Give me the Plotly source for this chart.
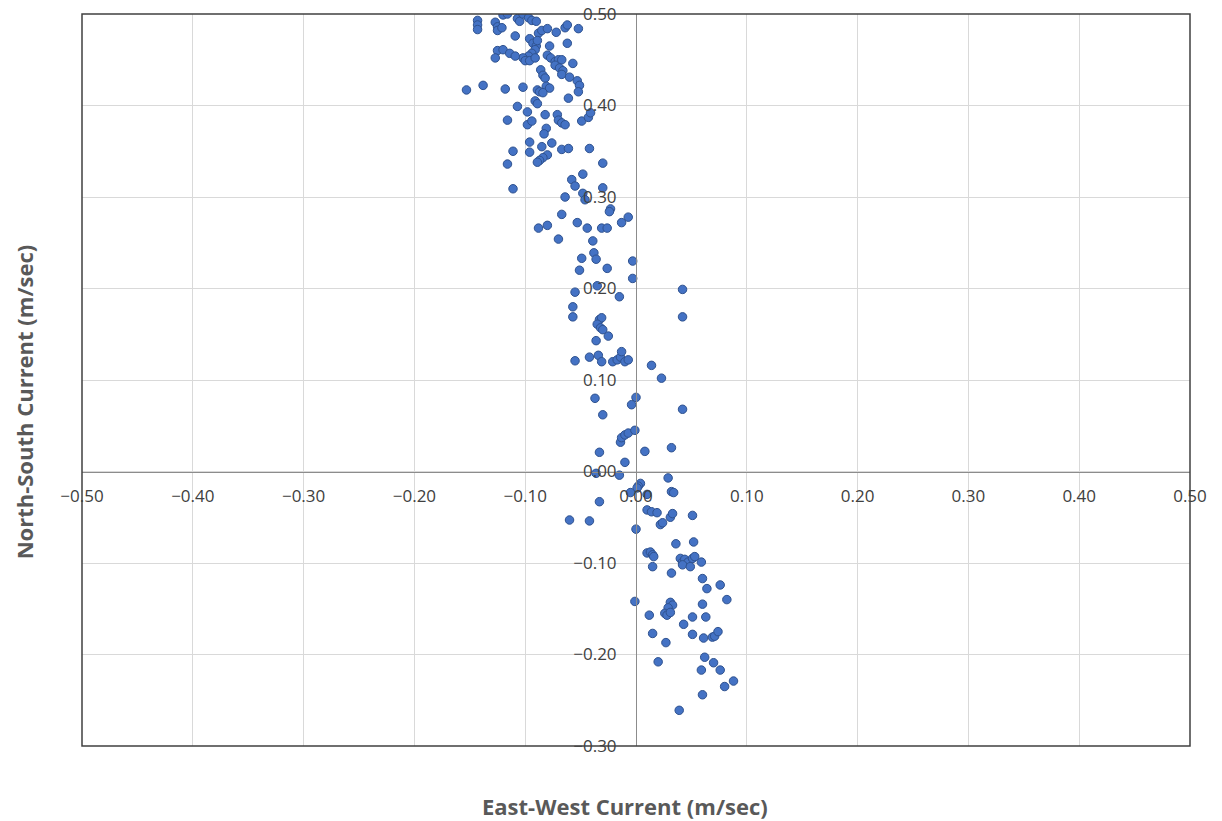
import plotly.graph_objects as go

# East-West (u) and North-South (v) current components, m/sec
east_west = [
    -0.143, -0.143, -0.143, -0.127, -0.125, -0.125, -0.121, -0.120, -0.116, -0.107,
    -0.105, -0.102, -0.097, -0.094, -0.090, -0.109, -0.088, -0.085, -0.080, -0.072,
    -0.064, -0.062, -0.052, -0.096, -0.093, -0.090, -0.091, -0.094, -0.097, -0.102,
    -0.100, -0.096, -0.091, -0.089, -0.125, -0.120, -0.114, -0.109, -0.127, -0.078,
    -0.062, -0.080, -0.077, -0.073, -0.070, -0.067, -0.073, -0.069, -0.066, -0.057,
    -0.086, -0.084, -0.082, -0.067, -0.060, -0.053, -0.051, -0.052, -0.081, -0.078,
    -0.089, -0.087, -0.084, -0.061, -0.153, -0.138, -0.118, -0.102, -0.091, -0.089,
    -0.107, -0.098, -0.116, -0.098, -0.094, -0.082, -0.071, -0.070, -0.067, -0.064,
    -0.081, -0.083, -0.049, -0.043, -0.041, -0.096, -0.076, -0.085, -0.067, -0.061,
    -0.042, -0.111, -0.096, -0.080, -0.084, -0.087, -0.089, -0.116, -0.030, -0.048,
    -0.058, -0.055, -0.111, -0.064, -0.048, -0.046, -0.030, -0.023, -0.067, -0.024,
    -0.007, -0.013, -0.088, -0.080, -0.053, -0.044, -0.031, -0.026, -0.070, -0.039,
    -0.038, -0.036, -0.049, -0.003, -0.051, -0.026, -0.003, -0.055, -0.035, -0.015,
    0.042, -0.057, -0.057, 0.042, -0.033, -0.031, -0.035, -0.032, -0.030, -0.025,
    -0.036, -0.042, -0.034, -0.031, -0.055, -0.021, -0.017, -0.014, -0.013, -0.010,
    -0.007, 0.014, 0.023, -0.037, 0.000, -0.004, 0.042, -0.030, -0.014, -0.013,
    -0.010, -0.007, -0.001, -0.033, 0.008, 0.032, -0.010, -0.036, -0.015, 0.029,
    0.004, 0.002, 0.001, -0.005, 0.010, 0.032, 0.034, -0.033, 0.010, 0.014,
    0.019, 0.031, 0.033, 0.051, -0.042, -0.060, 0.022, 0.024, 0.000, 0.036,
    0.052, 0.010, 0.013, 0.015, 0.016, 0.040, 0.042, 0.044, 0.047, 0.051,
    0.053, 0.042, 0.049, 0.059, 0.015, 0.032, 0.060, 0.076, 0.064, -0.001,
    0.031, 0.033, 0.029, 0.026, 0.028, 0.031, 0.060, 0.082, 0.012, 0.051,
    0.063, 0.043, 0.015, 0.051, 0.061, 0.069, 0.071, 0.074, 0.027, 0.020,
    0.062, 0.070, 0.076, 0.059, 0.080, 0.088, 0.060, 0.039,
]
north_south = [
    0.493, 0.488, 0.483, 0.491, 0.486, 0.482, 0.485, 0.499, 0.500, 0.495,
    0.492, 0.500, 0.496, 0.493, 0.492, 0.476, 0.479, 0.482, 0.484, 0.480,
    0.485, 0.488, 0.484, 0.473, 0.468, 0.465, 0.461, 0.457, 0.454, 0.452,
    0.449, 0.449, 0.452, 0.471, 0.460, 0.461, 0.457, 0.454, 0.452, 0.465,
    0.468, 0.455, 0.452, 0.448, 0.450, 0.450, 0.444, 0.441, 0.438, 0.446,
    0.439, 0.433, 0.430, 0.434, 0.431, 0.427, 0.422, 0.415, 0.421, 0.419,
    0.417, 0.415, 0.414, 0.408, 0.417, 0.422, 0.418, 0.420, 0.405, 0.402,
    0.399, 0.393, 0.384, 0.379, 0.383, 0.390, 0.390, 0.384, 0.381, 0.379,
    0.375, 0.369, 0.383, 0.387, 0.392, 0.360, 0.359, 0.355, 0.352, 0.353,
    0.353, 0.350, 0.349, 0.346, 0.343, 0.340, 0.338, 0.336, 0.337, 0.325,
    0.319, 0.312, 0.309, 0.300, 0.304, 0.297, 0.310, 0.287, 0.281, 0.284,
    0.278, 0.272, 0.266, 0.269, 0.272, 0.266, 0.266, 0.266, 0.254, 0.252,
    0.239, 0.232, 0.233, 0.230, 0.220, 0.222, 0.211, 0.196, 0.203, 0.191,
    0.199, 0.180, 0.169, 0.169, 0.166, 0.168, 0.161, 0.157, 0.155, 0.148,
    0.143, 0.125, 0.127, 0.120, 0.121, 0.120, 0.122, 0.125, 0.131, 0.120,
    0.122, 0.116, 0.102, 0.080, 0.081, 0.073, 0.068, 0.062, 0.032, 0.037,
    0.040, 0.042, 0.045, 0.021, 0.022, 0.026, 0.010, -0.002, -0.004, -0.007,
    -0.013, -0.016, -0.018, -0.023, -0.025, -0.022, -0.023, -0.033, -0.042, -0.044,
    -0.045, -0.050, -0.046, -0.048, -0.054, -0.053, -0.058, -0.056, -0.063, -0.079,
    -0.077, -0.089, -0.088, -0.091, -0.093, -0.095, -0.099, -0.096, -0.099, -0.095,
    -0.093, -0.102, -0.104, -0.099, -0.104, -0.111, -0.117, -0.124, -0.128, -0.142,
    -0.143, -0.146, -0.149, -0.155, -0.157, -0.154, -0.145, -0.140, -0.157, -0.159,
    -0.159, -0.167, -0.177, -0.178, -0.182, -0.181, -0.180, -0.175, -0.187, -0.208,
    -0.203, -0.209, -0.217, -0.217, -0.235, -0.229, -0.244, -0.261,
]

x_ticks = [-0.5, -0.4, -0.3, -0.2, -0.1, 0.0, 0.1, 0.2, 0.3, 0.4, 0.5]
y_ticks = [-0.3, -0.2, -0.1, 0.0, 0.1, 0.2, 0.3, 0.4, 0.5]

label_font = dict(family="Open Sans, sans-serif", size=17, color="#404040")
title_font = dict(family="Open Sans, sans-serif", size=22, color="#595959")

fig = go.Figure(
    go.Scatter(
        x=east_west,
        y=north_south,
        mode="markers",
        marker=dict(size=8.5, color="#4472C4", line=dict(width=1, color="#2F528F")),
        hoverinfo="x+y",
    )
)

fig.update_layout(
    width=1222,
    height=821,
    margin=dict(l=82, r=32, t=14, b=75, autoexpand=False),
    paper_bgcolor="white",
    plot_bgcolor="white",
    showlegend=False,
    xaxis=dict(
        range=[-0.5, 0.5],
        tickvals=x_ticks,
        tickformat=".2f",
        tickfont=label_font,
        showgrid=True,
        gridcolor="#d9d9d9",
        gridwidth=1,
        zeroline=False,
        showline=True,
        linecolor="#8c8c8c",
        linewidth=1,
        anchor="free",
        position=0.375,
        ticks="",
        ticklabelstandoff=9,
        automargin=False,
    ),
    yaxis=dict(
        range=[-0.3, 0.5],
        tickvals=y_ticks,
        tickformat=".2f",
        tickfont=label_font,
        showgrid=True,
        gridcolor="#d9d9d9",
        gridwidth=1,
        zeroline=False,
        showline=True,
        linecolor="#8c8c8c",
        linewidth=1,
        anchor="free",
        position=0.5,
        ticks="",
        ticklabelstandoff=16,
        automargin=False,
    ),
    shapes=[
        dict(
            type="rect", xref="paper", yref="paper", x0=0, y0=0, x1=1, y1=1,
            line=dict(color="#404040", width=1.5), fillcolor="rgba(0,0,0,0)",
            layer="above",
        )
    ],
    annotations=[
        dict(
            text="<b>East-West Current (m/sec)</b>", xref="paper", yref="paper",
            x=0.49, y=-0.082, xanchor="center", yanchor="middle",
            showarrow=False, font=title_font,
        ),
        dict(
            text="<b>North-South Current (m/sec)</b>", xref="paper", yref="paper",
            x=-0.052, y=0.47, xanchor="center", yanchor="middle", textangle=-90,
            showarrow=False, font=title_font,
        ),
    ],
)

fig.write_html("out.html")
